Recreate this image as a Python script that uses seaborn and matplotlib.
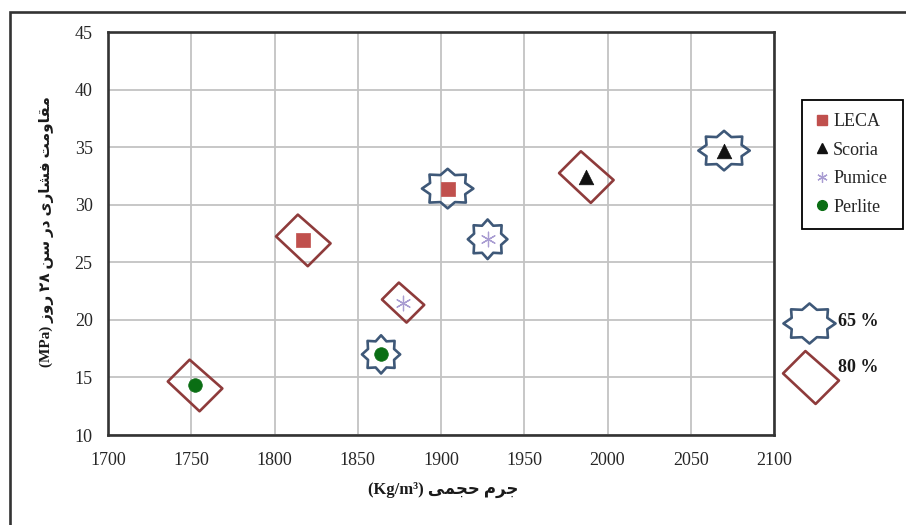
import matplotlib
matplotlib.use("Agg")
import matplotlib.pyplot as plt
import pandas as pd
import seaborn as sns
from matplotlib.path import Path
from matplotlib.lines import Line2D
from matplotlib.patches import Rectangle

# ---- data -------------------------------------------------------------
materials = ["LECA", "Scoria", "Pumice", "Perlite"]
density_80 = [1817, 1987, 1877, 1752]
strength_80 = [26.9, 32.4, 21.5, 14.3]
density_65 = [1904, 2070, 1928, 1864]
strength_65 = [31.4, 34.7, 27.0, 17.0]
ratio_labels = ["65 %", "80 %"]
x_ticks = list(range(1700, 2101, 50))
y_ticks = list(range(10, 46, 5))
y_title = "مقاومت فشاری در سن ۲۸ روز (MPa)"
x_title = "جرم حجمی (Kg/m³)"

# ---- minimal Persian shaping (contextual forms + right-to-left order) --
_FORMS = {
    "ا": (0xFE8D, 0xFE8E, None, None),
    "ت": (0xFE95, 0xFE96, 0xFE97, 0xFE98),
    "ج": (0xFE9D, 0xFE9E, 0xFE9F, 0xFEA0),
    "ح": (0xFEA1, 0xFEA2, 0xFEA3, 0xFEA4),
    "د": (0xFEA9, 0xFEAA, None, None),
    "ر": (0xFEAD, 0xFEAE, None, None),
    "ز": (0xFEAF, 0xFEB0, None, None),
    "س": (0xFEB1, 0xFEB2, 0xFEB3, 0xFEB4),
    "ش": (0xFEB5, 0xFEB6, 0xFEB7, 0xFEB8),
    "ف": (0xFED1, 0xFED2, 0xFED3, 0xFED4),
    "ق": (0xFED5, 0xFED6, 0xFED7, 0xFED8),
    "م": (0xFEE1, 0xFEE2, 0xFEE3, 0xFEE4),
    "ن": (0xFEE5, 0xFEE6, 0xFEE7, 0xFEE8),
    "و": (0xFEED, 0xFEEE, None, None),
    "\u06CC": (0xFEEF, 0xFEF0, 0xFEF3, 0xFEF4),
    "\u064A": (0xFEEF, 0xFEF0, 0xFEF3, 0xFEF4),
}


def _shape_word(word):
    out = []
    for i, ch in enumerate(word):
        forms = _FORMS.get(ch)
        if forms is None:
            out.append(ch)
            continue
        prev = word[i - 1] if i > 0 else ""
        nxt = word[i + 1] if i + 1 < len(word) else ""
        joins_prev = prev in _FORMS and _FORMS[prev][2] is not None
        joins_next = forms[2] is not None and nxt in _FORMS
        if joins_prev and joins_next:
            code = forms[3]
        elif joins_prev:
            code = forms[1]
        elif joins_next:
            code = forms[2]
        else:
            code = forms[0]
        out.append(chr(code))
    return "".join(out)


def rtl(text):
    visual = []
    for w in reversed(text.split(" ")):
        if any(c in _FORMS for c in w):
            visual.append(_shape_word(w)[::-1])
        else:
            visual.append(w)
    return " ".join(visual)


# ---- styling ------------------------------------------------------------
sns.set_style("white")
plt.rcParams["font.family"] = ["Liberation Serif", "DejaVu Sans"]

colors = {"LECA": "#c0504d", "Scoria": "#111111", "Pumice": "#a99dd2", "Perlite": "#0a6e14"}
markers = {"LECA": "s", "Scoria": "^", "Pumice": (6, 2, 0), "Perlite": "o"}
marker_pt = {"LECA": 9.5, "Scoria": 10.5, "Pumice": 10.5, "Perlite": 9.8}

diamond_color = "#8e3b3b"
star_color = "#3e5878"

diamond = Path([(-5, 26), (28, -3), (5, -26), (-27, 4), (-5, 26)],
               [Path.MOVETO, Path.LINETO, Path.LINETO, Path.LINETO, Path.CLOSEPOLY])
_star = Path.unit_regular_star(8, 0.74)
star = Path(_star.vertices, _star.codes)
wide_star = Path(_star.vertices * [1.3, 1.0], _star.codes)

diamond_pt = {"LECA": 40, "Scoria": 40, "Pumice": 31, "Perlite": 40}
star_shape = {"LECA": wide_star, "Scoria": wide_star, "Pumice": star, "Perlite": star}
star_pt = {"LECA": 37, "Scoria": 37, "Pumice": 28.5, "Perlite": 27.5}

df80 = pd.DataFrame({"material": materials, "density": density_80, "strength": strength_80})
df65 = pd.DataFrame({"material": materials, "density": density_65, "strength": strength_65})
df_all = pd.concat([df80, df65], ignore_index=True)

W, H = 906, 525
fig = plt.figure(figsize=(W / 100, H / 100), dpi=100)
ax = fig.add_axes([108 / W, 1 - 435 / H, 666 / W, 403 / H])


def ring(row, shape, size, edge):
    sns.scatterplot(x=[row.density], y=[row.strength], marker=shape, s=size ** 2,
                    ax=ax, zorder=2, legend=False)
    coll = ax.collections[-1]
    coll.set_facecolor("none")
    coll.set_edgecolor(edge)
    coll.set_linewidth(1.9)


for row in df80.itertuples():
    ring(row, diamond, diamond_pt[row.material], diamond_color)
for row in df65.itertuples():
    ring(row, star_shape[row.material], star_pt[row.material], star_color)

for m in materials:
    sub = df_all[df_all["material"] == m]
    kw = dict(data=sub, x="density", y="strength", marker=markers[m],
              s=marker_pt[m] ** 2, color=colors[m], ax=ax, zorder=3, legend=False)
    if m == "Pumice":
        kw["linewidth"] = 0.9
    else:
        kw["edgecolor"] = colors[m]
        kw["linewidth"] = 0.5
    sns.scatterplot(**kw)

ax.set_xlim(1700, 2100)
ax.set_ylim(10, 45)
ax.set_xticks(x_ticks)
ax.set_yticks(y_ticks)
ax.set_xlabel("")
ax.set_ylabel("")
ax.set_axisbelow(True)
ax.grid(True, color="#c3c3c3", linewidth=1.3)
for sp in ax.spines.values():
    sp.set_visible(True)
    sp.set_color("#333333")
    sp.set_linewidth(1.9)
ax.tick_params(direction="out", length=5, width=1.0, color="#b0b0b0",
               labelsize=13, labelcolor="#262626")
ax.tick_params(axis="x", pad=7)
ax.tick_params(axis="y", pad=6)

label_font = dict(family=["Liberation Serif", "DejaVu Sans"], fontweight="bold",
                  color="#1a1a1a")
fig.text(47 / W, 1 - 232 / H, rtl(y_title), rotation=90, ha="center", va="center",
         fontsize=11, **label_font)
fig.text(443 / W, 1 - 490 / H, rtl(x_title), ha="center", va="center",
         fontsize=12, **label_font)

# material legend
handles = []
for m in materials:
    if m == "Pumice":
        handles.append(Line2D([], [], ls="none", marker=markers[m], ms=7.5,
                              mec=colors[m], mew=0.9))
    else:
        handles.append(Line2D([], [], ls="none", marker=markers[m], ms=7,
                              mfc=colors[m], mec=colors[m]))
leg = fig.legend(handles, materials, loc="upper left",
                 bbox_to_anchor=(802 / W, 1 - 230 / H, 101 / W, 130 / H),
                 mode="expand", borderaxespad=0,
                 frameon=True, fancybox=False, edgecolor="black", framealpha=1,
                 prop={"family": "Liberation Serif", "size": 13},
                 handlelength=0.8, handletextpad=0.2, labelspacing=0.64,
                 borderpad=0.72)
leg.get_frame().set_linewidth(1.3)

# ratio key
fig.add_artist(Line2D([809 / W], [1 - 323 / H], ls="none", marker=wide_star, ms=37.5,
                      mfc="none", mec=star_color, mew=1.9, transform=fig.transFigure))
fig.add_artist(Line2D([810 / W], [1 - 377 / H], ls="none", marker=diamond, ms=41,
                      mfc="none", mec=diamond_color, mew=1.9, transform=fig.transFigure))
fig.text(838 / W, 1 - 322 / H, ratio_labels[0], ha="left", va="center",
         fontsize=13, **label_font)
fig.text(838 / W, 1 - 368 / H, ratio_labels[1], ha="left", va="center",
         fontsize=13, **label_font)

# outer chart border
fig.add_artist(Rectangle((10 / W, -0.2), 1.2, 1.2 - 12 / H, transform=fig.transFigure,
                         fill=False, linewidth=1.9, edgecolor="#333333", clip_on=False))

fig.savefig("out.png", dpi=100)
